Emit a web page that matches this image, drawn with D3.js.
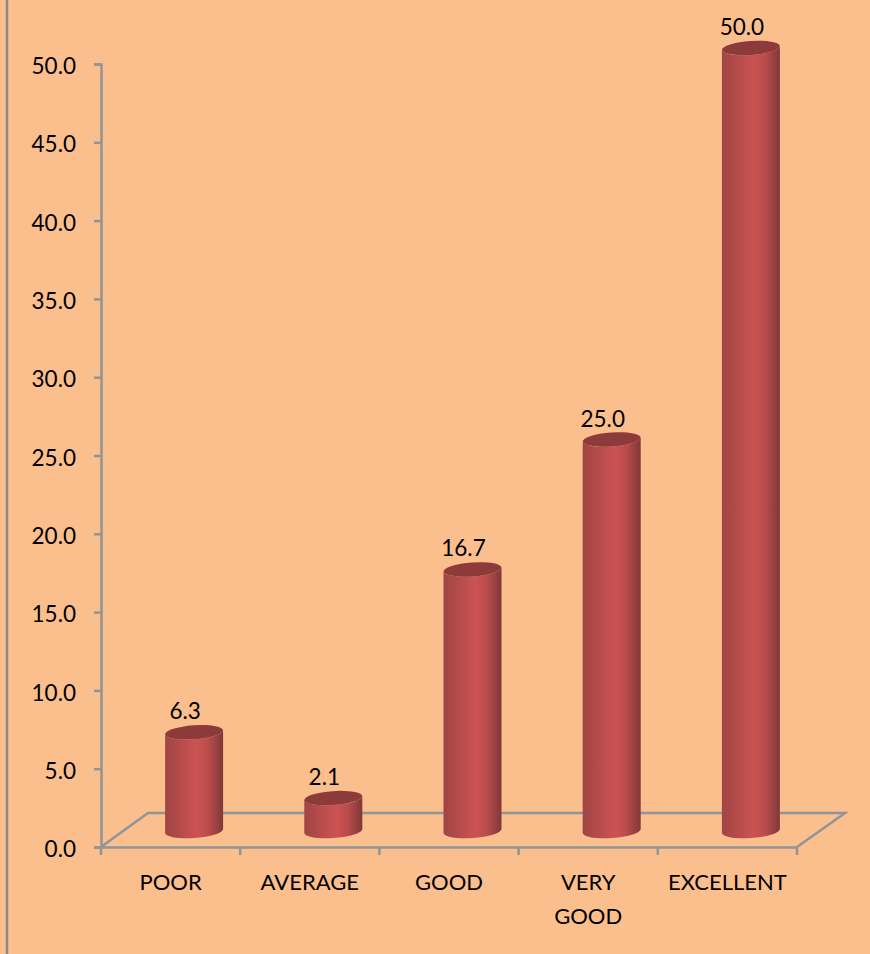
<!DOCTYPE html>
<html lang="en">
	<head>
		<meta charset="utf-8">
		<title>Ratings</title>
		<script type="text/javascript" src="https://cdn.jsdelivr.net/npm/d3@7"></script>
		<style type="text/css">
			html, body { margin: 0; padding: 0; background: #fbbf8d; }
			svg { display: block; }
			text { font-family: Lato, "Open Sans", sans-serif; fill: #000; }
		</style>
	</head>
	<body>
		<script type="text/javascript">
			var categories = ["POOR", "AVERAGE", "GOOD", "VERY GOOD", "EXCELLENT"]
			var values = [6.3, 2.1, 16.7, 25.0, 50.0]
			var yTicks = [0, 5, 10, 15, 20, 25, 30, 35, 40, 45, 50]

			var w = 870, h = 954
			var axisColor = "#8f9599"
			var depthX = 47, depthY = 34 // floor offset of the fake 3d box
			var baseShift = 16 // cylinders stand a bit behind the axis line

			var svg = d3.select("body").append("svg").attr("width", w).attr("height", h)

			svg.append("rect").attr("width", w).attr("height", h).attr("fill", "#fbbf8d")
			svg.append("line").attr("x1", 7).attr("x2", 7).attr("y1", 0).attr("y2", h)
				.attr("stroke", "#8a8a8a").attr("stroke-width", 2.5)

			var xscale = d3.scaleBand().domain(categories).range([101, 797])
			var yscale = d3.scaleLinear().domain([0, 50]).range([847, 64])

			var defs = svg.append("defs")
			var grad = defs.append("linearGradient").attr("id", "cyl")
			grad.append("stop").attr("offset", "0%").attr("stop-color", "#a04544")
			grad.append("stop").attr("offset", "55%").attr("stop-color", "#cb5352")
			grad.append("stop").attr("offset", "75%").attr("stop-color", "#b94c4b")
			grad.append("stop").attr("offset", "100%").attr("stop-color", "#7f3838")

			// floor
			var floor = d3.path()
			floor.moveTo(xscale.range()[0], yscale(0))
			floor.lineTo(xscale.range()[0] + depthX, yscale(0) - depthY)
			floor.lineTo(xscale.range()[1] + depthX + 1, yscale(0) - depthY)
			floor.lineTo(xscale.range()[1], yscale(0))
			svg.append("path").attr("d", floor.toString()).attr("fill", "none")
				.attr("stroke", axisColor).attr("stroke-width", 2.5)

			// axes
			var yaxis = d3.axisLeft(yscale).tickValues(yTicks).tickFormat(d3.format(".1f")).tickSize(7).tickPadding(18)
			var gy = svg.append("g").attr("transform", "translate(101,0)").call(yaxis)
			gy.selectAll("text").attr("font-size", "22.5px").attr("dy", "0.43em").style("font-family", "Lato")

			var xaxis = d3.axisBottom(xscale).tickValues([]).tickSizeOuter(0)
			var gx = svg.append("g").attr("transform", "translate(0,847)").call(xaxis)
			svg.selectAll(".xt").data(categories.concat(["end"])).enter().append("line")
				.attr("class", "xt")
				.attr("x1", function(d, i) { return i < categories.length ? xscale(d) : xscale.range()[1] })
				.attr("x2", function(d, i) { return i < categories.length ? xscale(d) : xscale.range()[1] })
				.attr("y1", 847).attr("y2", 855)
				.attr("stroke", axisColor).attr("stroke-width", 2.5)
			svg.selectAll(".domain, .tick line").attr("stroke", axisColor).attr("stroke-width", 2.5)

			// cylinders
			var rx = 29, ry = 7, angle = -4
			var bars = svg.selectAll(".bar").data(values).enter().append("g").attr("class", "bar")
				.attr("transform", function(d, i) {
					return "translate(" + (xscale(categories[i]) + xscale.bandwidth() / 2 + depthX / 2) + ",0)"
				})

			var dy = rx * Math.sin(angle * Math.PI / 180)
			bars.append("path")
				.attr("d", function(d) {
					var top = yscale(d) - baseShift, bot = yscale(0) - baseShift
					return "M" + (-rx) + "," + (top - dy) +
						"L" + (-rx) + "," + (bot - dy) +
						"A" + rx + "," + ry + "," + angle + ",0,0," + rx + "," + (bot + dy) +
						"L" + rx + "," + (top + dy) +
						"A" + rx + "," + ry + "," + angle + ",0,1," + (-rx) + "," + (top - dy) + "Z"
				})
				.attr("fill", "url(#cyl)")

			bars.append("ellipse")
				.attr("rx", rx).attr("ry", ry)
				.attr("transform", function(d) {
					return "translate(0," + (yscale(d) - baseShift) + ") rotate(" + angle + ")"
				})
				.attr("fill", "#8d3a3a")

			bars.append("text")
				.attr("x", -9)
				.attr("y", function(d) { return yscale(d) - baseShift - 13 })
				.attr("text-anchor", "middle")
				.attr("font-size", "22.5px")
				.text(function(d) { return d3.format(".1f")(d) })

			// category labels, VERY GOOD wraps
			svg.selectAll(".cat").data(categories).enter().append("text")
				.attr("class", "cat")
				.attr("text-anchor", "middle")
				.attr("font-size", "22px")
				.attr("y", 890)
				.each(function(d) {
					var x = xscale(d) + xscale.bandwidth() / 2
					var t = d3.select(this)
					var parts = d == "VERY GOOD" ? d.split(" ") : [d]
					parts.forEach(function(p, j) {
						t.append("tspan").attr("x", x).attr("dy", j == 0 ? 0 : 34).text(p)
					})
				})
		</script>
	</body>
</html>
